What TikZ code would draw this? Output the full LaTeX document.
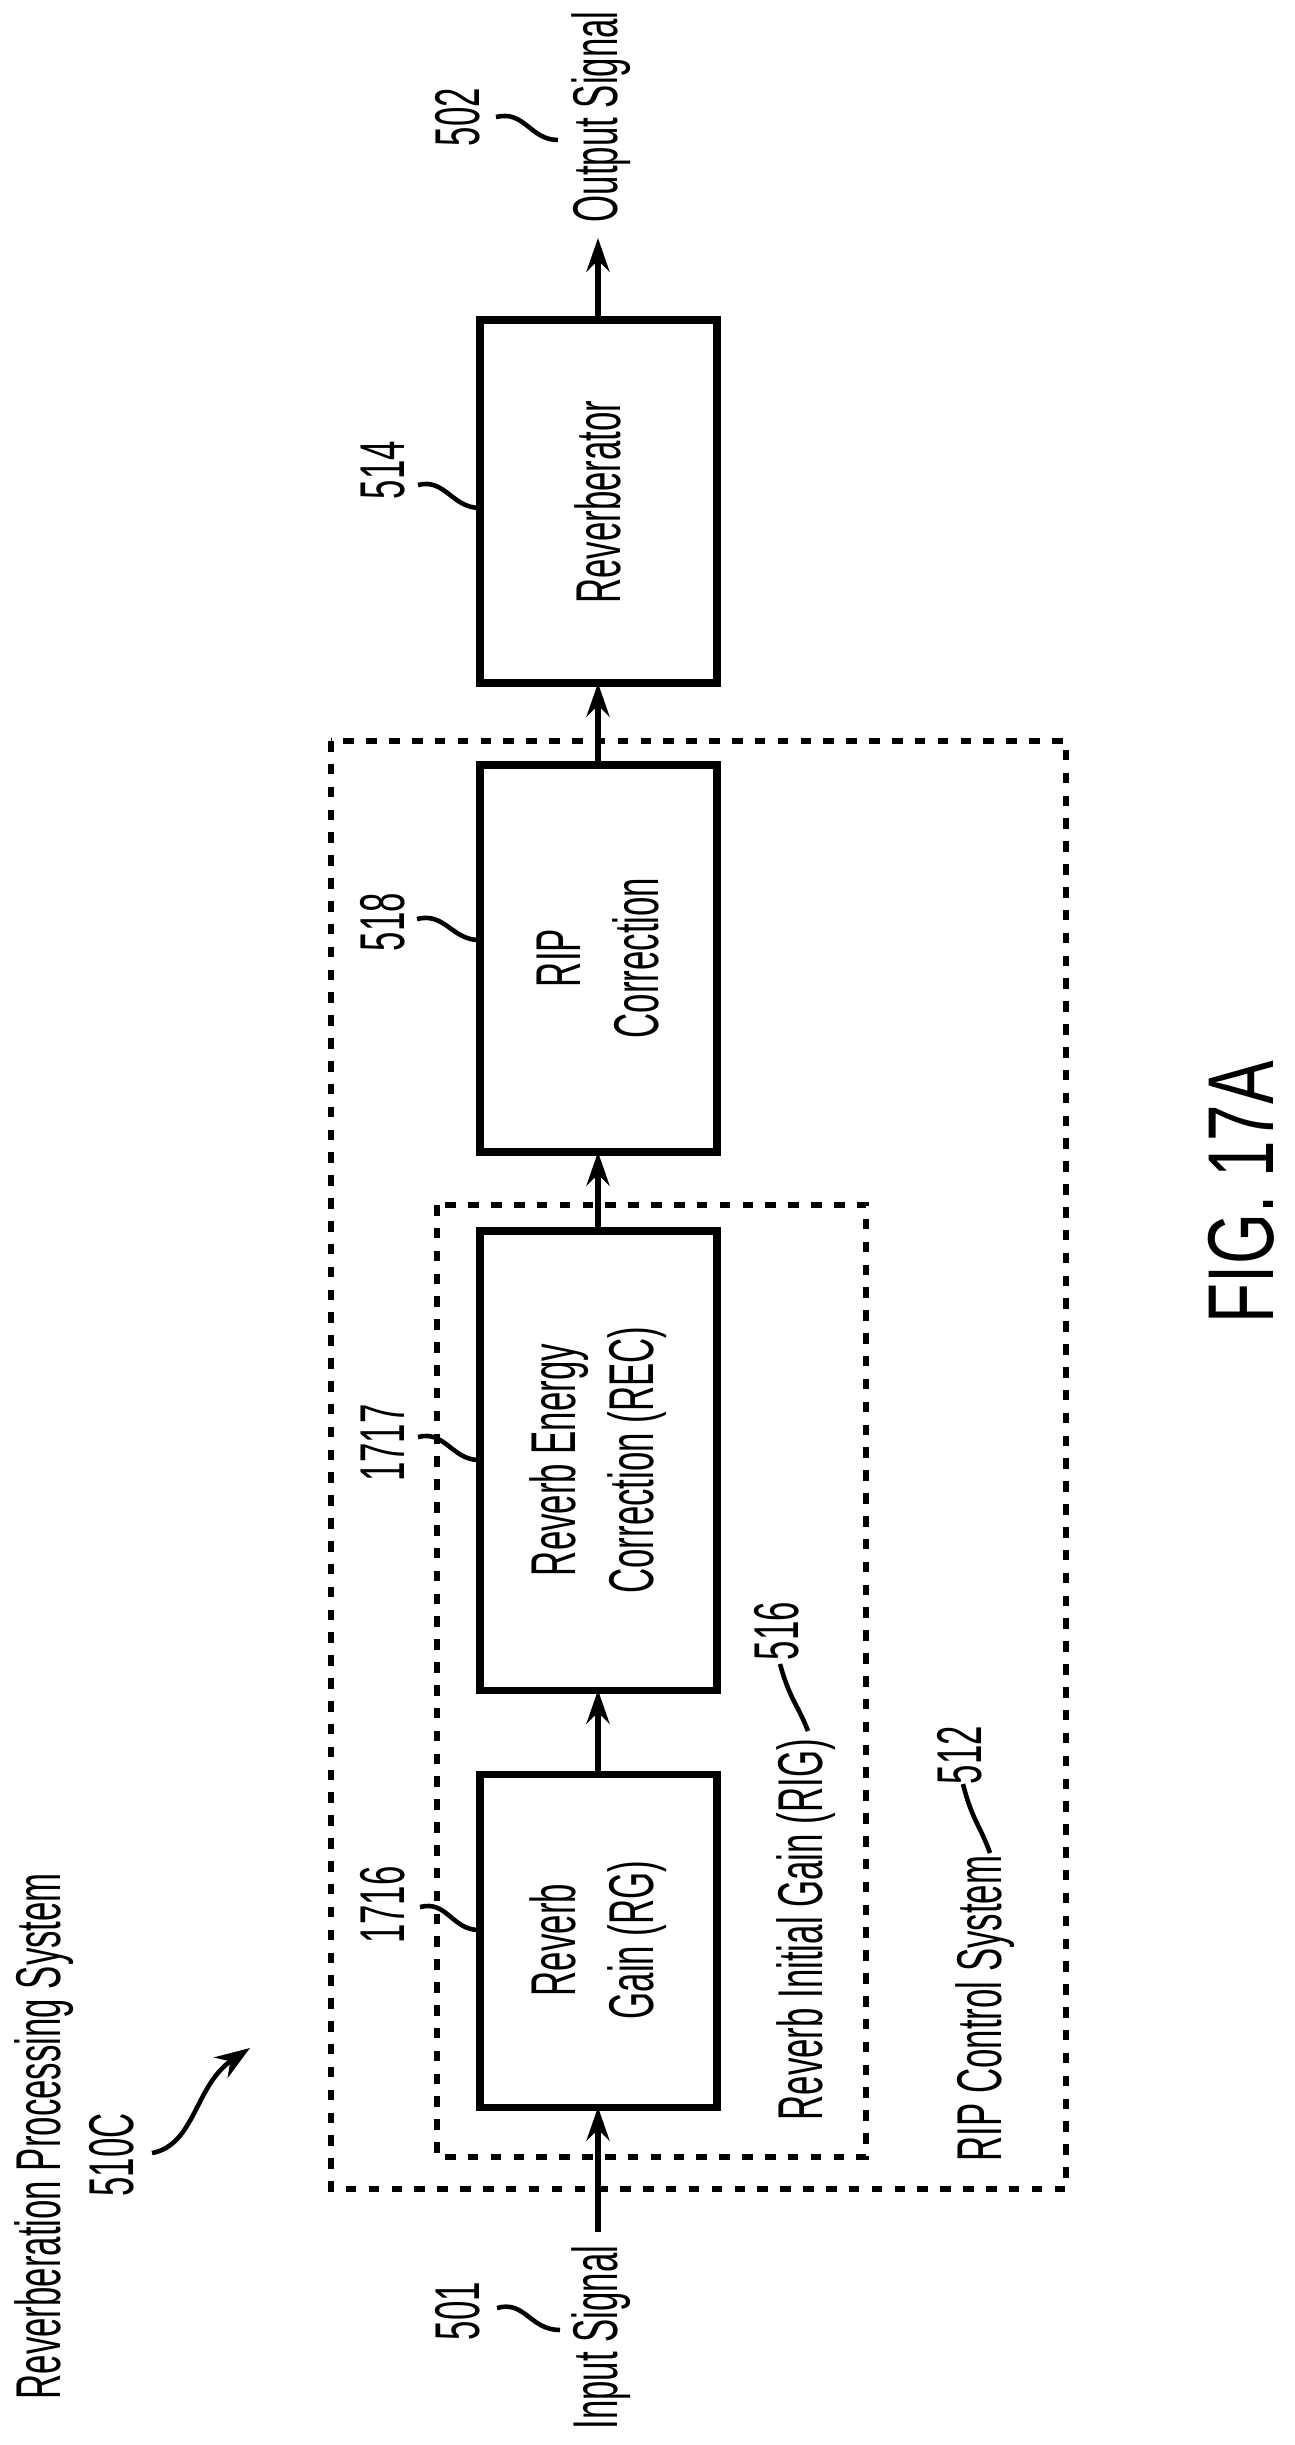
\documentclass[tikz,border=0pt]{standalone}
\usepackage{fontspec}
\setmainfont{Liberation Sans}[FakeStretch=0.55]
\newfontfamily\figfont{Liberation Sans}[FakeStretch=0.7]
\usetikzlibrary{arrows.meta}
\begin{document}
\begin{tikzpicture}[x=0.01cm,y=-0.01cm,
  blk/.style={line width=2pt},
  dbox/.style={line width=1.5pt,dash pattern=on 3pt off 3.5pt},
  lbl/.style={rotate=90,font=\fontsize{18}{22}\selectfont,inner sep=0pt,align=center},
  arr/.style={-{Stealth[length=9.5pt,width=6.5pt]},line width=1.6pt},
  sq/.style={line width=1.3pt}]
\useasboundingbox (0,0) rectangle (1295,2445);
% blocks
\draw[blk] (480,320) rectangle (717,683);
\draw[blk] (480,765) rectangle (717,1152);
\draw[blk] (480,1231) rectangle (717,1690);
\draw[blk] (480,1774) rectangle (717,2107);
\node[lbl] (rev) at (598,502) {Reverberator};
\node[lbl] (ripc) at (598,958) {RIP\\Correction};
\node[lbl] (rec) at (598,1460) {Reverb Energy\\Correction (REC)};
\node[lbl] (rg) at (598,1940) {Reverb\\Gain (RG)};
\coordinate (revT) at (598,320); \coordinate (revB) at (598,683);
\coordinate (ripT) at (598,765); \coordinate (ripB) at (598,1152);
\coordinate (recT) at (598,1231); \coordinate (recB) at (598,1690);
\coordinate (rgT) at (598,1774); \coordinate (rgB) at (598,2107);
\coordinate (inS) at (598,2232); \coordinate (outE) at (598,238);
% dashed groups
\draw[dbox] (437,1205) rectangle (866,2157);
\draw[dbox] (331,741) rectangle (1066,2189);
% arrows
\draw[arr] (inS) -- (rgB);
\draw[arr] (rgT) -- (recB);
\draw[arr] (recT) -- (ripB);
\draw[arr] (ripT) -- (revB);
\draw[arr] (revT) -- (outE);
% io labels
\node[lbl,anchor=east] (in) at (601,2245) {Input Signal};
\node[lbl,anchor=west] (out) at (601,223) {Output Signal};
\node[lbl] (n501) at (458,2311) {501};
\draw[sq] (497,2308) .. controls (525,2300) and (530,2330) .. (560,2330);
\node[lbl] (n502) at (458,117) {502};
\draw[sq] (496,117) .. controls (525,110) and (530,140) .. (558,140);
% reference numbers
\node[lbl] (n514) at (383,470) {514};
\draw[sq] (418,485) .. controls (445,478) and (452,508) .. (480,508);
\node[lbl] (n518) at (383,922) {518};
\draw[sq] (417,919) .. controls (445,912) and (452,940) .. (479,940);
\node[lbl] (n1717) at (383,1443) {1717};
\draw[sq] (418,1437) .. controls (445,1430) and (452,1460) .. (479,1460);
\node[lbl] (n1716) at (383,1905) {1716};
\draw[sq] (420,1907) .. controls (447,1900) and (452,1930) .. (479,1930);
\node[lbl,anchor=west] (rig) at (806,2121) {Reverb Initial Gain (RIG)};
\draw[sq] (808,1731) .. controls (798,1705) and (790,1700) .. (780,1664);
\node[lbl] (n516) at (777,1631) {516};
\node[lbl,anchor=west] (ripcs) at (985,2162) {RIP Control System};
\draw[sq] (990,1853) .. controls (980,1825) and (972,1820) .. (963,1784);
\node[lbl] (n512) at (960,1755) {512};
% title
\node[lbl,anchor=west] (title) at (44,2400) {Reverberation Processing System};
\node[lbl] (n510) at (112,2155) {510C};
\draw[line width=1.3pt,-{Stealth[length=10pt,width=7pt]}] (152,2153) .. controls (195,2145) and (195,2085) .. (250,2048);
\node[rotate=90,inner sep=0pt,font=\figfont\fontsize{26.6}{30}\selectfont] (fig) at (1241,1192) {FIG. 17A};
\end{tikzpicture}
\end{document}
